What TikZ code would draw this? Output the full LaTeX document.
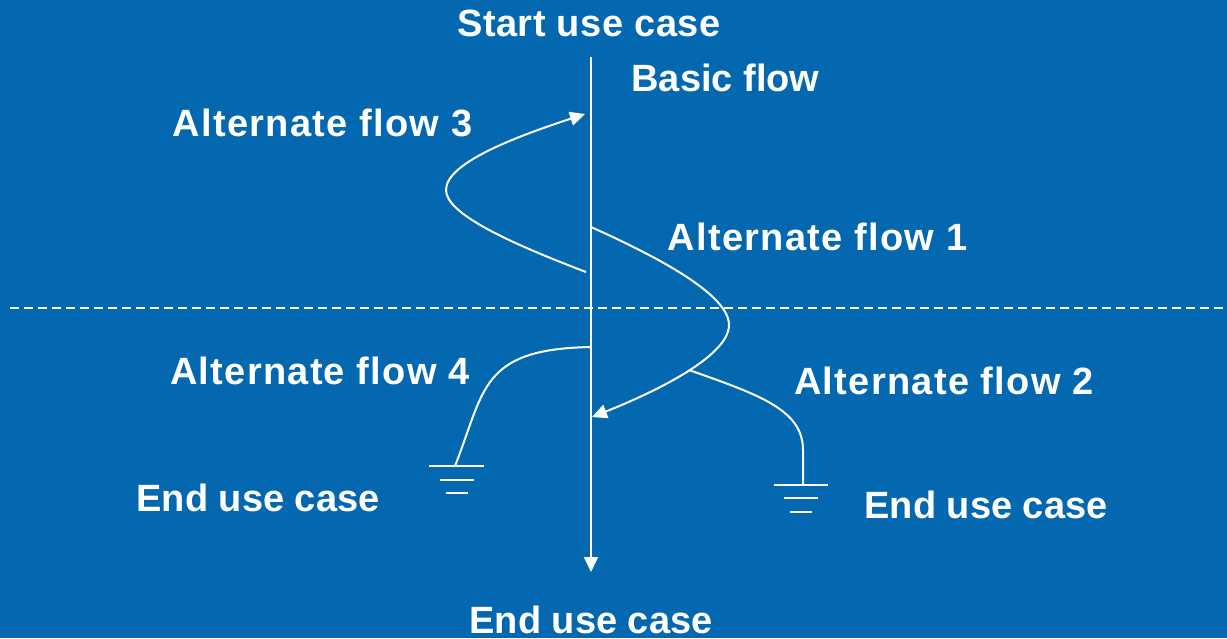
\documentclass[tikz,border=0pt]{standalone}
\usepackage{fontspec}
\setmainfont{Liberation Sans}
\usetikzlibrary{arrows.meta}
\definecolor{bgblue}{RGB}{4,104,176}
\begin{document}
\begin{tikzpicture}[x=1pt,y=-1pt,
  lbl/.style={text=white,inner sep=0pt,anchor=base,font=\fontsize{38}{40}\selectfont\bfseries},
  widelbl/.style={lbl,font=\fontsize{38}{40}\selectfont\bfseries\addfontfeature{LetterSpace=3.4}},
  startlbl/.style={lbl,font=\fontsize{38}{40}\selectfont\bfseries\addfontfeature{LetterSpace=1.4}},
  flow/.style={white,line width=2pt},
  tri/.style={-{Triangle[length=15pt,width=14pt]}},
  gnd/.style={white,line width=2pt}]
  % canvas
  \fill[bgblue] (0,0) rectangle (1227,638);
  \useasboundingbox (0,0) rectangle (1227,638);

  % labels
  \node[startlbl] (start) at (589,36.5) {Start use case};
  \node[lbl] (basic) at (725.5,91.5) {Basic flow};
  \node[widelbl] (alt3) at (322.5,136.5) {Alternate flow 3};
  \node[widelbl] (alt1) at (817.5,250.5) {Alternate flow 1};
  \node[widelbl] (alt4) at (320,384) {Alternate flow 4};
  \node[widelbl] (alt2) at (944,394.5) {Alternate flow 2};
  \node[lbl] (endL) at (258,511) {End use case};
  \node[lbl] (endR) at (986,518.5) {End use case};
  \node[lbl] (endB) at (591,633.5) {End use case};

  % divider
  \coordinate (divL) at (10,308);
  \coordinate (divR) at (1227,308);
  \draw[white,line width=1.6pt,dash pattern=on 9pt off 5pt] (divL) -- (divR);

  % basic flow
  \coordinate (bTop) at (591,57);
  \coordinate (bEnd) at (591,572);
  \draw[flow,tri] (bTop) -- (bEnd);

  % alternate flow 3 (loops back up)
  \coordinate (a3s) at (586,272);
  \coordinate (a3m) at (446,190);
  \coordinate (a3e) at (585,114);
  \draw[flow,tri] (a3s) .. controls (510,243) and (446,214) .. (a3m)
                        .. controls (446,163) and (515,137) .. (a3e);

  % alternate flow 1 (rejoins further down)
  \coordinate (a1s) at (591,227);
  \coordinate (a1m) at (729,325);
  \coordinate (a1e) at (592,417);
  \draw[flow,tri] (a1s) .. controls (660,258) and (729,295) .. (a1m)
                        .. controls (729,355) and (660,390) .. (a1e);

  % alternate flow 2 (branches off flow 1 to an end)
  \coordinate (a2s) at (689,370);
  \coordinate (g2) at (803,485);
  \draw[flow] (a2s) .. controls (760,395) and (803,410) .. (803,450) -- (g2);

  % alternate flow 4 (leaves to an end)
  \coordinate (a4s) at (591,347);
  \coordinate (g4) at (455,466);
  \draw[flow] (a4s) .. controls (480,349) and (485,390) .. (g4);

  % end markers
  \draw[gnd] (429,466) -- (484,466) (440,480) -- (474,480) (446,493) -- (468,493);
  \draw[gnd] (774,485) -- (828,485) (784,498) -- (818,498) (790,512) -- (812,512);
\end{tikzpicture}
\end{document}
